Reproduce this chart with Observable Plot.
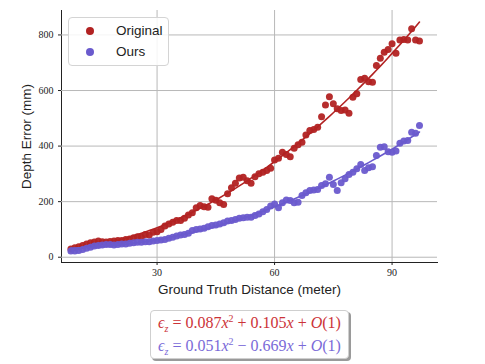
<!DOCTYPE html>
<html>
<head>
<meta charset="utf-8">
<script src="https://cdn.jsdelivr.net/npm/d3@7"></script>
<script src="https://cdn.jsdelivr.net/npm/@observablehq/plot@0.6"></script>
<style>
  body { margin: 0; background: white; }
  #wrap { position: relative; width: 485px; height: 364px; }
  g[aria-label="y-axis label"] text, g[aria-label="x-axis label"] text {
    font-family: "Liberation Sans", sans-serif; font-size: 13.5px; fill: #222;
  }
  #legend {
    position: absolute; left: 68px; top: 17px; width: 99px; height: 47px;
    border: 1px solid #d4d4d4; border-radius: 4px; background: rgba(255,255,255,0.85);
    font-family: "Liberation Sans", sans-serif; font-size: 13.5px; color: #222;
  }
  .lrow { position: absolute; left: 0; height: 20px; line-height: 20px; }
  .ldot { position: absolute; left: 17px; top: 6px; width: 8px; height: 8px; border-radius: 50%; }
  .ltxt { position: absolute; left: 47px; white-space: nowrap; }
  #caption {
    position: absolute; left: 150px; top: 310px; width: 197px; height: 47px;
    border: 1px solid #cfcfcf; border-radius: 4px; background: white;
    box-shadow: 2px 2px 0 #9a9a9a;
    font-family: "Liberation Serif", serif; font-size: 16px; text-align: center;
  }
  #caption div { height: 23px; line-height: 23px; white-space: nowrap; }
  #caption i { font-style: italic; }
  #caption sup { font-size: 10px; line-height: 0; }
  #caption sub { font-size: 10px; line-height: 0; }
</style>
</head>
<body>
<div id="wrap"></div>
<script>
const xOriginal = [8,9,10,11,12,13,14,15,16,17,18,19,20,21,22,23,24,25,26,27,28,29,30,31,32,33,34,35,36,37,38,39,40,41,42,43,44,45,46,47,48,49,50,51,52,53,54,55,56,57,58,59,60,61,62,63,64,65,66,67,68,69,70,71,72,73,74,75,76,77,78,79,80,81,82,83,84,85,86,87,88,89,90,91,92,93,94,95,96,97];
const yOriginal = [30,34,38,42,48,52,55,58,56,55,57,58,60,60,64,66,70,74,72,82,80,90,92,100,112,120,126,132,132,140,152,160,178,186,182,180,210,205,196,190,228,250,266,285,288,275,266,290,300,306,312,320,350,356,378,370,362,392,405,414,440,456,460,468,506,548,578,552,534,528,530,518,576,588,640,644,632,630,690,716,738,748,768,734,782,784,782,822,782,778];
const xOurs = [8,9,10,11,12,13,14,15,16,17,18,19,20,21,22,23,24,25,26,27,28,29,30,31,32,33,34,35,36,37,38,39,40,41,42,43,44,45,46,47,48,49,50,51,52,53,54,55,56,57,58,59,60,61,62,63,64,65,66,67,68,69,70,71,72,73,74,75,76,77,78,79,80,81,82,83,84,85,86,87,88,89,90,91,92,93,94,95,96,97];
const yOurs = [22,22,24,28,32,36,40,42,44,46,46,44,46,48,48,50,52,54,54,56,56,58,60,62,64,68,72,76,80,82,86,96,100,102,104,110,114,116,120,124,130,132,136,140,142,144,144,150,156,164,172,184,192,178,196,206,204,196,198,222,232,240,242,244,258,264,288,262,240,268,282,298,306,318,334,312,322,326,366,396,398,380,378,382,410,418,420,450,446,474];
const xTicks = [30, 60, 90];
const yTicks = [0, 200, 400, 600, 800];
const seriesNames = ["Original", "Ours"];
const colors = ["#b22222", "#6a5acd"];

function quadFit(xs, ys) {
  let S = [0,0,0,0,0], T = [0,0,0];
  xs.forEach((x, i) => {
    for (let k = 0; k < 5; k++) S[k] += Math.pow(x, k);
    for (let k = 0; k < 3; k++) T[k] += Math.pow(x, k) * ys[i];
  });
  const M = [[S[0],S[1],S[2]],[S[1],S[2],S[3]],[S[2],S[3],S[4]]];
  const det = m => m[0][0]*(m[1][1]*m[2][2]-m[1][2]*m[2][1]) - m[0][1]*(m[1][0]*m[2][2]-m[1][2]*m[2][0]) + m[0][2]*(m[1][0]*m[2][1]-m[1][1]*m[2][0]);
  const D = det(M);
  const coef = [0,1,2].map(j => det(M.map((row, r) => row.map((v, c) => c === j ? T[r] : v))) / D);
  return xs.map(x => ({x, y: coef[0] + coef[1]*x + coef[2]*x*x}));
}

const orig = xOriginal.map((x, i) => ({x, y: yOriginal[i]}));
const ours = xOurs.map((x, i) => ({x, y: yOurs[i]}));
const fitOrig = quadFit(xOriginal, yOriginal);
const fitOurs = quadFit(xOurs, yOurs);

const chart = Plot.plot({
  width: 485, height: 300,
  marginTop: 10, marginBottom: 38, marginLeft: 61, marginRight: 48,
  style: {fontFamily: "Liberation Serif, serif", fontSize: "10px", color: "#222", background: "white", overflow: "visible"},
  x: {domain: [5.6, 101.6], ticks: xTicks, tickSize: 3, tickPadding: 3, line: true,
      label: "Ground Truth Distance (meter)", labelAnchor: "center", labelOffset: 31, labelArrow: "none"},
  y: {domain: [-19, 888], ticks: yTicks, tickSize: 3, tickPadding: 5, line: true,
      label: "Depth Error (mm)", labelAnchor: "center", labelOffset: 40, labelArrow: "none"},
  marks: [
    Plot.gridX(xTicks, {stroke: "#b8b8b8", strokeOpacity: 1}),
    Plot.gridY(yTicks, {stroke: "#b8b8b8", strokeOpacity: 1}),
    Plot.dot(orig, {x: "x", y: "y", r: 3.5, fill: colors[0], fillOpacity: 0.95}),
    Plot.line(fitOrig, {x: "x", y: "y", stroke: colors[0], strokeWidth: 1.6}),
    Plot.dot(ours, {x: "x", y: "y", r: 3.5, fill: colors[1], fillOpacity: 0.95}),
    Plot.line(fitOurs, {x: "x", y: "y", stroke: colors[1], strokeWidth: 1.6})
  ]
});
const wrap = document.getElementById("wrap");
wrap.appendChild(chart);

const legend = document.createElement("div");
legend.id = "legend";
seriesNames.forEach((name, i) => {
  const row = document.createElement("div");
  row.className = "lrow";
  row.style.top = (3 + i * 21) + "px";
  row.style.width = "99px";
  row.innerHTML = `<span class="ldot" style="background:${colors[i]}"></span><span class="ltxt">${name}</span>`;
  legend.appendChild(row);
});
wrap.appendChild(legend);

const capRed = "#cc3338", capPurple = "#7a6ad8";
const caption = document.createElement("div");
caption.id = "caption";
caption.innerHTML =
  `<div style="color:${capRed}"><i>ϵ</i><sub><i>z</i></sub> = 0.087<i>x</i><sup>2</sup> + 0.105<i>x</i> + <i>O</i>(1)</div>` +
  `<div style="color:${capPurple}"><i>ϵ</i><sub><i>z</i></sub> = 0.051<i>x</i><sup>2</sup> − 0.669<i>x</i> + <i>O</i>(1)</div>`;
wrap.appendChild(caption);
</script>
</body>
</html>
